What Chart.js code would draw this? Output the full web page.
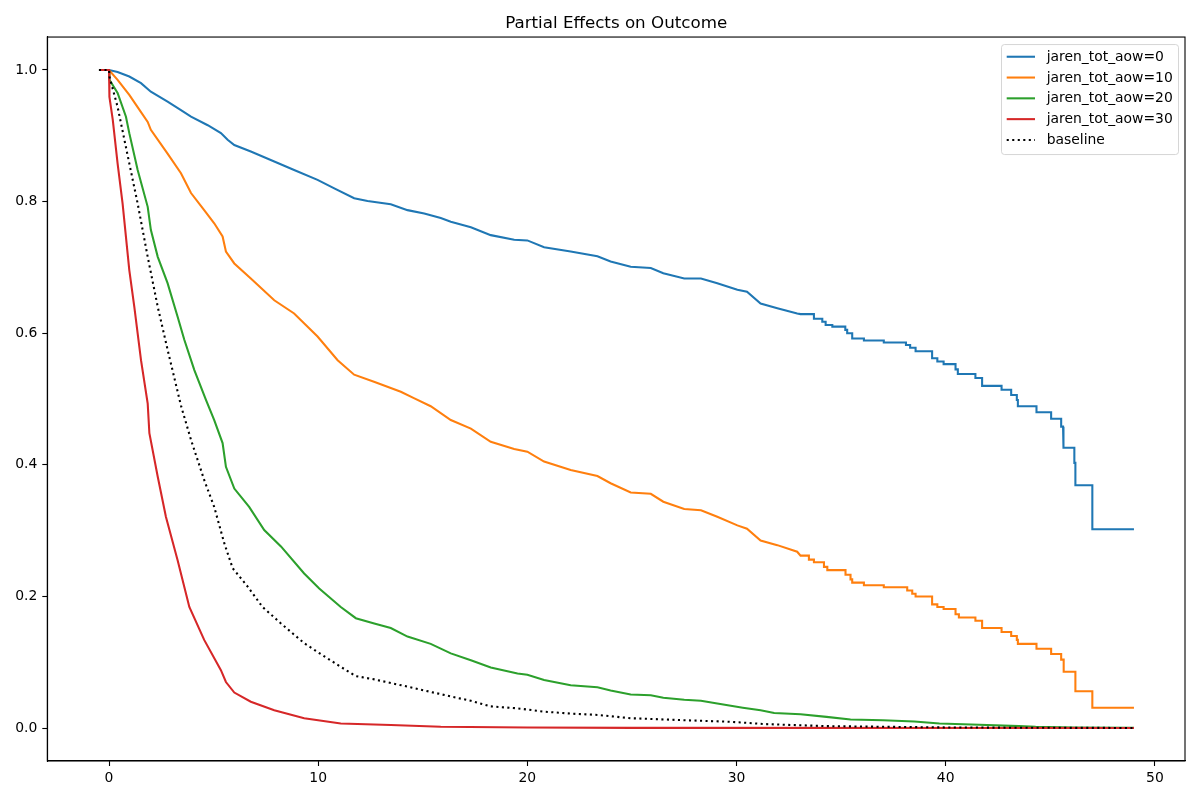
<!DOCTYPE html>
<html>
<head>
<meta charset="utf-8">
<script src="https://cdn.jsdelivr.net/npm/chart.js@4.4.1/dist/chart.umd.min.js"></script>
<style>
  html, body { margin: 0; padding: 0; background: #fff; }
  #wrap { width: 1200px; height: 800px; position: relative; }
</style>
</head>
<body>
<div id="wrap"><canvas id="c" width="1200" height="800"></canvas></div>
<script>
// ---------------- data ----------------
const chartTitle = "Partial Effects on Outcome";
const seriesLabels = ["jaren_tot_aow=0", "jaren_tot_aow=10", "jaren_tot_aow=20", "jaren_tot_aow=30", "baseline"];
const xTicks = [0, 10, 20, 30, 40, 50];
const yTicks = [0.0, 0.2, 0.4, 0.6, 0.8, 1.0];

const timeA0 = [-0.48,0,0.41,0.97,1.53,2.0,2.8,3.44,3.92,4.72,5.35,5.67,5.99,6.78,7.9,8.85,9.97,10.77,11.72,12.36,13.47,14.27,15.07,15.86,16.34,17.3,18.25,19.37,20.0,20.8,22.07,23.35,23.98,24.94,25.9,26.5,27.5,28.3,29.08,30.04,30.5,31.15,31.95,32.9,
  33.06,33.7,33.7,34.1,34.1,34.26,34.26,34.58,34.58,35.2,35.2,35.29,35.29,35.53,35.53,36.09,36.09,37.04,37.04,38.1,38.1,38.3,38.3,38.56,38.56,39.35,39.35,39.6,39.6,39.9,39.9,40.47,40.47,40.58,40.58,41.42,41.42,41.74,41.74,42.67,42.67,43.13,43.13,43.4,43.4,43.45,43.45,44.34,44.34,45.04,45.04,45.52,45.52,45.61,45.61,45.64,45.64,46.15,46.15,46.2,46.2,47.01,47.01,49.0];
const survA0 = [1,1,0.997,0.990,0.980,0.967,0.952,0.939,0.929,0.916,0.904,0.894,0.886,0.876,0.861,0.848,0.833,0.820,0.805,0.801,0.796,0.787,0.782,0.775,0.7695,0.761,0.749,0.742,0.741,0.7305,0.724,0.717,0.709,0.701,0.699,0.691,0.683,0.683,0.676,0.666,0.663,0.645,0.638,0.630,
  0.629,0.629,0.622,0.622,0.6175,0.6175,0.6125,0.6125,0.610,0.610,0.605,0.605,0.600,0.600,0.592,0.592,0.589,0.589,0.586,0.586,0.582,0.582,0.578,0.578,0.5725,0.5725,0.562,0.562,0.557,0.557,0.553,0.553,0.545,0.545,0.538,0.538,0.532,0.532,0.520,0.520,0.514,0.514,0.506,0.506,0.4985,0.4985,0.489,0.489,0.480,0.480,0.470,0.470,0.458,0.458,0.443,0.443,0.426,0.426,0.403,0.403,0.369,0.369,0.302,0.302];

const timeA10 = [-0.48,0,0.41,0.97,1.4,1.85,2.0,2.8,3.44,3.92,4.55,5.03,5.43,5.59,5.99,6.78,7.9,8.85,9.97,10.93,11.72,12.7,13.95,14.6,15.38,16.34,17.3,18.25,19.37,20.0,20.8,22.07,23.35,23.98,24.94,25.9,26.5,27.5,28.3,29.08,30.04,30.5,31.15,31.95,32.9,
  33.06,33.46,33.46,33.7,33.7,34.18,34.18,34.34,34.34,35.21,35.21,35.45,35.45,35.53,35.53,36.09,36.09,37.04,37.04,38.16,38.16,38.4,38.4,38.56,38.56,39.35,39.35,39.6,39.6,39.9,39.9,40.47,40.47,40.63,40.63,41.42,41.42,41.74,41.74,42.67,42.67,43.13,43.13,43.4,43.4,43.45,43.45,44.34,44.34,45.04,45.04,45.52,45.52,45.64,45.64,46.2,46.2,47.01,47.01,49.0];
const survA10 = [1,1,0.985,0.962,0.942,0.921,0.909,0.873,0.843,0.813,0.787,0.767,0.747,0.724,0.706,0.683,0.650,0.630,0.595,0.559,0.537,0.526,0.511,0.501,0.489,0.468,0.455,0.435,0.424,0.420,0.405,0.392,0.383,0.372,0.358,0.356,0.344,0.333,0.331,0.321,0.308,0.303,0.285,0.278,0.268,
  0.262,0.262,0.256,0.256,0.252,0.252,0.245,0.245,0.240,0.240,0.233,0.233,0.226,0.226,0.221,0.221,0.217,0.217,0.214,0.214,0.209,0.209,0.204,0.204,0.200,0.200,0.188,0.188,0.184,0.184,0.181,0.181,0.173,0.173,0.168,0.168,0.163,0.163,0.152,0.152,0.146,0.146,0.140,0.140,0.134,0.134,0.128,0.128,0.1205,0.1205,0.1125,0.1125,0.104,0.104,0.0856,0.0856,0.056,0.056,0.031,0.031];

const timeA20 = [-0.48,0,0.02,0.41,0.81,0.97,1.37,1.85,2.0,2.33,2.8,3.28,3.6,4.08,4.63,5.03,5.43,5.59,5.99,6.7,7.42,8.22,9.33,10.05,11.08,11.8,12.68,13.47,14.27,15.38,16.34,17.3,18.25,19.53,20.0,20.8,22.07,23.35,23.98,24.94,25.9,26.5,27.5,28.3,29.08,30.3,31.15,31.8,33.06,34.3,35.45,37.0,38.5,39.7,41.6,43.5,44.3,46.2,49.0];
const survA20 = [1,1,0.985,0.965,0.929,0.904,0.848,0.792,0.757,0.716,0.676,0.625,0.590,0.544,0.499,0.468,0.433,0.397,0.364,0.336,0.301,0.276,0.235,0.212,0.184,0.167,0.159,0.152,0.139,0.128,0.1135,0.103,0.092,0.083,0.081,0.073,0.065,0.062,0.057,0.051,0.050,0.046,0.043,0.0415,0.0375,0.031,0.027,0.023,0.021,0.017,0.013,0.012,0.010,0.007,0.005,0.003,0.002,0.001,0.0005];

const timeA30 = [-0.48,0,0.02,0.18,0.41,0.65,0.97,1.21,1.53,1.85,1.93,2.33,2.72,3.28,3.84,4.55,5.35,5.59,5.99,6.78,7.9,9.33,11.08,13.47,15.86,20.0,25.0,49.0];
const survA30 = [1,1,0.959,0.924,0.858,0.797,0.696,0.640,0.559,0.493,0.448,0.382,0.321,0.255,0.184,0.134,0.088,0.070,0.054,0.040,0.027,0.015,0.007,0.0046,0.002,0.001,0.0003,0.0001];

const timeBase = [-0.48,0,0.02,0.41,0.97,1.37,1.85,2.33,2.8,3.44,3.92,4.55,5.03,5.51,5.91,6.63,7.34,8.22,9.33,10.05,11.08,11.8,12.68,14.27,15.38,16.34,17.3,18.25,19.53,20.8,22.07,23.35,24.94,27.5,29.7,31.4,34.3,37.0,40.0,44.0,49.0];
const survBase = [1,1,0.99,0.944,0.858,0.797,0.716,0.640,0.575,0.490,0.438,0.377,0.336,0.281,0.243,0.215,0.184,0.159,0.129,0.114,0.093,0.079,0.074,0.063,0.055,0.048,0.0415,0.033,0.030,0.025,0.022,0.020,0.015,0.012,0.0096,0.006,0.003,0.002,0.001,0.0005,0.0002];

// ---------------- chart ----------------
const FONT = "'DejaVu Sans', sans-serif";
const colors = ["#1f77b4", "#ff7f0e", "#2ca02c", "#d62728", "#000000"];
const timesList = [timeA0, timeA10, timeA20, timeA30, timeBase];
const survList = [survA0, survA10, survA20, survA30, survBase];

function pts(t, s) { return t.map((x, i) => ({ x: x, y: s[i] })); }

const datasets = seriesLabels.map((lab, i) => ({
  label: lab,
  data: pts(timesList[i], survList[i]),
  borderColor: colors[i],
  backgroundColor: colors[i],
  borderWidth: 2.08,
  pointRadius: 0,
  fill: false,
  tension: 0,
  borderDash: i === 4 ? [2.08, 3.44] : [],
  borderCapStyle: 'butt',
  order: 4 - i
}));

const framePlugin = {
  id: 'frame',
  afterDraw(chart) {
    const ctx = chart.ctx, a = chart.chartArea;
    ctx.save();
    ctx.strokeStyle = '#000';
    ctx.lineWidth = 1.1;
    ctx.strokeRect(a.left, a.top, a.right - a.left, a.bottom - a.top);
    // legend (matplotlib style, upper right inside axes)
    const bx = a.right - 183.5, by = a.top + 7.5, bw = 177, bh = 110, r = 3;
    ctx.beginPath();
    ctx.moveTo(bx + r, by);
    ctx.lineTo(bx + bw - r, by); ctx.quadraticCurveTo(bx + bw, by, bx + bw, by + r);
    ctx.lineTo(bx + bw, by + bh - r); ctx.quadraticCurveTo(bx + bw, by + bh, bx + bw - r, by + bh);
    ctx.lineTo(bx + r, by + bh); ctx.quadraticCurveTo(bx, by + bh, bx, by + bh - r);
    ctx.lineTo(bx, by + r); ctx.quadraticCurveTo(bx, by, bx + r, by);
    ctx.closePath();
    ctx.fillStyle = 'rgba(255,255,255,0.8)';
    ctx.fill();
    ctx.strokeStyle = 'rgba(204,204,204,0.8)';
    ctx.lineWidth = 1;
    ctx.stroke();
    chart.data.datasets.forEach((ds, i) => {
      const yy = by + 12.2 + i * 20.8;
      ctx.beginPath();
      ctx.strokeStyle = ds.borderColor;
      ctx.lineWidth = ds.borderWidth;
      ctx.lineCap = 'butt';
      ctx.setLineDash(ds.borderDash || []);
      ctx.moveTo(bx + 5.2, yy);
      ctx.lineTo(bx + 33.5, yy);
      ctx.stroke();
      ctx.setLineDash([]);
      ctx.fillStyle = '#000';
      ctx.font = '13.9px ' + FONT;
      ctx.textAlign = 'left';
      ctx.textBaseline = 'middle';
      ctx.fillText(ds.label, bx + 45.2, yy + 0.5);
    });
    ctx.restore();
  }
};

new Chart(document.getElementById('c'), {
  type: 'line',
  data: { datasets: datasets },
  options: {
    responsive: false,
    animation: false,
    devicePixelRatio: 1,
    layout: { padding: { left: 0, right: 15, top: 0, bottom: 0 } },
    plugins: {
      legend: { display: false },
      tooltip: { enabled: false },
      title: {
        display: true,
        text: chartTitle,
        fullSize: false,
        color: '#000',
        font: { family: FONT, size: 16.7, weight: 'normal', lineHeight: 1.2 },
        padding: { top: 14, bottom: 3 }
      }
    },
    scales: {
      x: {
        type: 'linear',
        min: -2.95,
        max: 51.44,
        afterBuildTicks(scale) { scale.ticks = xTicks.map(v => ({ value: v })); },
        afterFit(scale) { scale.height = 39; },
        ticks: {
          color: '#000',
          font: { family: FONT, size: 13.9 },
          padding: 4,
          maxRotation: 0,
          callback: v => String(v)
        },
        grid: { display: true, drawOnChartArea: false, drawTicks: true, tickLength: 5, tickColor: '#000', tickWidth: 1.1 },
        border: { display: true, color: '#000', width: 1.1 }
      },
      y: {
        type: 'linear',
        min: -0.05,
        max: 1.05,
        afterBuildTicks(scale) { scale.ticks = yTicks.map(v => ({ value: v })); },
        afterFit(scale) { scale.width = 47.3; },
        ticks: {
          color: '#000',
          font: { family: FONT, size: 13.9 },
          padding: 5,
          callback: v => Number(v).toFixed(1)
        },
        grid: { display: true, drawOnChartArea: false, drawTicks: true, tickLength: 5, tickColor: '#000', tickWidth: 1.1 },
        border: { display: true, color: '#000', width: 1.1 }
      }
    }
  },
  plugins: [framePlugin]
});
</script>
</body>
</html>
